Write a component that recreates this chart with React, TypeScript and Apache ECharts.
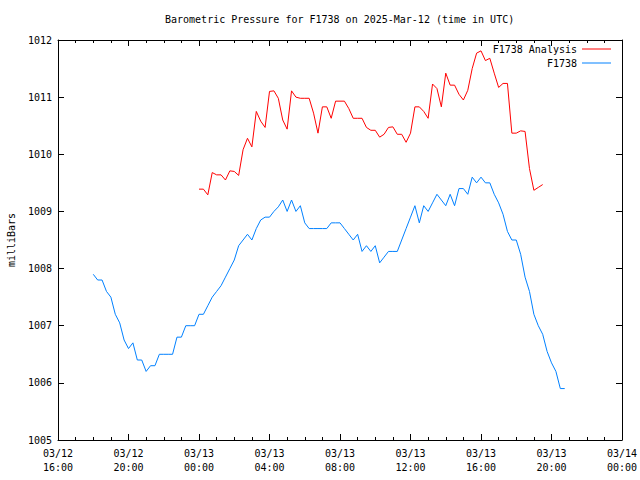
import React, { useEffect, useRef } from "react";
import * as echarts from "echarts";

const titleText = "Barometric Pressure for F1738 on 2025-Mar-12 (time in UTC)";
const yAxisName = "milliBars";
const seriesNames = ["F1738 Analysis", "F1738"];
const axisStart = "03/12 16:00";
const axisEnd = "03/14 00:00";
const yMin = 1005;
const yMax = 1012;

const f1738Times = [
  "03/12 18:00", "03/12 18:15", "03/12 18:30", "03/12 18:45", "03/12 19:00", "03/12 19:15", "03/12 19:30", "03/12 19:45",
  "03/12 20:00", "03/12 20:15", "03/12 20:30", "03/12 20:45", "03/12 21:00", "03/12 21:15", "03/12 21:30", "03/12 21:45",
  "03/12 22:00", "03/12 22:15", "03/12 22:30", "03/12 22:45", "03/12 23:00", "03/12 23:15", "03/12 23:30", "03/12 23:45",
  "03/13 00:00", "03/13 00:15", "03/13 00:30", "03/13 00:45", "03/13 01:00", "03/13 01:15", "03/13 01:30", "03/13 01:45",
  "03/13 02:00", "03/13 02:15", "03/13 02:30", "03/13 02:45", "03/13 03:00", "03/13 03:15", "03/13 03:30", "03/13 03:45",
  "03/13 04:00", "03/13 04:15", "03/13 04:30", "03/13 04:45", "03/13 05:00", "03/13 05:15", "03/13 05:30", "03/13 05:45",
  "03/13 06:00", "03/13 06:15", "03/13 06:30", "03/13 06:45", "03/13 07:00", "03/13 07:15", "03/13 07:30", "03/13 07:45",
  "03/13 08:00", "03/13 08:15", "03/13 08:30", "03/13 08:45", "03/13 09:00", "03/13 09:15", "03/13 09:30", "03/13 09:45",
  "03/13 10:00", "03/13 10:15", "03/13 10:30", "03/13 10:45", "03/13 11:00", "03/13 11:15", "03/13 11:30", "03/13 11:45",
  "03/13 12:00", "03/13 12:15", "03/13 12:30", "03/13 12:45", "03/13 13:00", "03/13 13:15", "03/13 13:30", "03/13 13:45",
  "03/13 14:00", "03/13 14:15", "03/13 14:30", "03/13 14:45", "03/13 15:00", "03/13 15:15", "03/13 15:30", "03/13 15:45",
  "03/13 16:00", "03/13 16:15", "03/13 16:30", "03/13 16:45", "03/13 17:00", "03/13 17:15", "03/13 17:30", "03/13 17:45",
  "03/13 18:00", "03/13 18:15", "03/13 18:30", "03/13 18:45", "03/13 19:00", "03/13 19:15", "03/13 19:30", "03/13 19:45",
  "03/13 20:00", "03/13 20:15", "03/13 20:30", "03/13 20:45",
];
const f1738Values = [
  1007.9, 1007.8, 1007.8, 1007.6, 1007.5, 1007.2, 1007.05, 1006.75,
  1006.6, 1006.7, 1006.4, 1006.4, 1006.2, 1006.3, 1006.3, 1006.5,
  1006.5, 1006.5, 1006.5, 1006.8, 1006.8, 1007.0, 1007.0, 1007.0,
  1007.2, 1007.2, 1007.35, 1007.5, 1007.6, 1007.7, 1007.85, 1008.0,
  1008.15, 1008.4, 1008.5, 1008.6, 1008.5, 1008.7, 1008.85, 1008.9,
  1008.9, 1009.0, 1009.08, 1009.2, 1009.0, 1009.2, 1009.0, 1009.1,
  1008.8, 1008.7, 1008.7, 1008.7, 1008.7, 1008.7, 1008.8, 1008.8,
  1008.8, 1008.7, 1008.6, 1008.5, 1008.6, 1008.3, 1008.4, 1008.3,
  1008.4, 1008.1, 1008.2, 1008.3, 1008.3, 1008.3, 1008.5, 1008.7,
  1008.9, 1009.1, 1008.8, 1009.1, 1009.0, 1009.15, 1009.3, 1009.2,
  1009.1, 1009.3, 1009.1, 1009.4, 1009.4, 1009.3, 1009.6, 1009.5,
  1009.6, 1009.5, 1009.5, 1009.3, 1009.15, 1008.95, 1008.65, 1008.5,
  1008.5, 1008.25, 1007.85, 1007.6, 1007.2, 1007.0, 1006.85, 1006.55,
  1006.35, 1006.2, 1005.9, 1005.9,
];

const analysisTimes = [
  "03/13 00:00", "03/13 00:15", "03/13 00:30", "03/13 00:45", "03/13 01:00", "03/13 01:15", "03/13 01:30", "03/13 01:45",
  "03/13 02:00", "03/13 02:15", "03/13 02:30", "03/13 02:45", "03/13 03:00", "03/13 03:15", "03/13 03:30", "03/13 03:45",
  "03/13 04:00", "03/13 04:15", "03/13 04:30", "03/13 04:45", "03/13 05:00", "03/13 05:15", "03/13 05:30", "03/13 05:45",
  "03/13 06:00", "03/13 06:15", "03/13 06:30", "03/13 06:45", "03/13 07:00", "03/13 07:15", "03/13 07:30", "03/13 07:45",
  "03/13 08:00", "03/13 08:15", "03/13 08:30", "03/13 08:45", "03/13 09:00", "03/13 09:15", "03/13 09:30", "03/13 09:45",
  "03/13 10:00", "03/13 10:15", "03/13 10:30", "03/13 10:45", "03/13 11:00", "03/13 11:15", "03/13 11:30", "03/13 11:45",
  "03/13 12:00", "03/13 12:15", "03/13 12:30", "03/13 12:45", "03/13 13:00", "03/13 13:15", "03/13 13:30", "03/13 13:45",
  "03/13 14:00", "03/13 14:15", "03/13 14:30", "03/13 14:45", "03/13 15:00", "03/13 15:15", "03/13 15:30", "03/13 15:45",
  "03/13 16:00", "03/13 16:15", "03/13 16:30", "03/13 16:45", "03/13 17:00", "03/13 17:15", "03/13 17:30", "03/13 17:45",
  "03/13 18:00", "03/13 18:15", "03/13 18:30", "03/13 18:45", "03/13 19:00", "03/13 19:15", "03/13 19:30",
];
const analysisValues = [
  1009.39, 1009.39, 1009.29, 1009.68, 1009.64, 1009.64, 1009.55, 1009.71,
  1009.7, 1009.63, 1010.08, 1010.28, 1010.13, 1010.75, 1010.58, 1010.47,
  1011.1, 1011.11, 1010.98, 1010.6, 1010.44, 1011.11, 1011.0, 1010.98,
  1010.98, 1010.98, 1010.72, 1010.37, 1010.83, 1010.83, 1010.63, 1010.93,
  1010.93, 1010.93, 1010.8, 1010.63, 1010.63, 1010.63, 1010.47, 1010.42,
  1010.42, 1010.3, 1010.35, 1010.47, 1010.48, 1010.35, 1010.35, 1010.21,
  1010.37, 1010.83, 1010.83, 1010.75, 1010.63, 1011.23, 1011.15, 1010.83,
  1011.42, 1011.21, 1011.21, 1011.05, 1010.95, 1011.12, 1011.5, 1011.77,
  1011.81, 1011.64, 1011.68, 1011.42, 1011.17, 1011.24, 1011.24, 1010.37,
  1010.37, 1010.41, 1010.4, 1009.75, 1009.37, 1009.42, 1009.47,
];

const HOUR = 3600 * 1000;
const FONT = "'DejaVu Sans Mono', 'Liberation Mono', monospace";

function parseTime(s: string): number {
  const [md, hm] = s.split(" ");
  const [mo, d] = md.split("/").map(Number);
  const [h, m] = hm.split(":").map(Number);
  return Date.UTC(2025, mo - 1, d, h, m);
}

function pad(n: number): string {
  return n < 10 ? "0" + n : String(n);
}

function fmtLabel(v: number): string {
  const d = new Date(v);
  return `${pad(d.getUTCMonth() + 1)}/${pad(d.getUTCDate())}\n${pad(d.getUTCHours())}:${pad(d.getUTCMinutes())}`;
}

export default function App() {
  const ref = useRef<HTMLDivElement>(null);
  useEffect(() => {
    if (!ref.current) return;
    const chart = echarts.init(ref.current, undefined, { renderer: "svg" });
    const xMin = parseTime(axisStart);
    const xMax = parseTime(axisEnd);
    const axisLine = { show: true, lineStyle: { color: "#000", width: 1 } };
    const xCommon = {
      type: "value" as const,
      min: xMin,
      max: xMax,
      interval: 4 * HOUR,
      axisLine,
      axisTick: { show: true, inside: true, length: 6, lineStyle: { color: "#000" } },
      minorTick: { show: true, splitNumber: 4, length: 3, lineStyle: { color: "#000" } },
      splitLine: { show: false },
      minorSplitLine: { show: false },
    };
    const yCommon = {
      type: "value" as const,
      min: yMin,
      max: yMax,
      interval: 1,
      axisLine,
      axisTick: { show: true, inside: true, length: 6, lineStyle: { color: "#000" } },
      splitLine: { show: false },
    };
    const legendCommon = {
      orient: "horizontal" as const,
      right: 24,
      align: "right" as const,
      icon: "rect",
      itemWidth: 29,
      itemHeight: 1,
      textStyle: { fontFamily: FONT, fontSize: 10, color: "#000" },
      selectedMode: false,
    };
    chart.setOption({
      animation: false,
      backgroundColor: "#fff",
      title: {
        text: titleText,
        left: 160,
        top: 9,
        textStyle: { fontFamily: FONT, fontSize: 10, fontWeight: "normal", color: "#000" },
      },
      legend: [
        { ...legendCommon, data: [seriesNames[0]], top: 39 },
        { ...legendCommon, data: [seriesNames[1]], top: 53 },
      ],
      grid: { left: 58, right: 18, top: 40, bottom: 40, containLabel: false, outerBoundsMode: "none" },
      xAxis: [
        {
          ...xCommon,
          position: "bottom",
          axisLabel: {
            show: true,
            formatter: (v: number) => fmtLabel(v),
            fontFamily: FONT,
            fontSize: 10,
            color: "#000",
            lineHeight: 14,
            margin: 6,
          },
        },
        { ...xCommon, position: "top", axisLabel: { show: false } },
      ],
      yAxis: [
        {
          ...yCommon,
          position: "left",
          name: yAxisName,
          nameLocation: "middle",
          nameGap: 42,
          nameRotate: 90,
          nameTextStyle: { fontFamily: FONT, fontSize: 10, color: "#000" },
          axisLabel: {
            show: true,
            formatter: (v: number) => String(v),
            fontFamily: FONT,
            fontSize: 10,
            color: "#000",
            margin: 6,
          },
        },
        { ...yCommon, position: "right", axisLabel: { show: false } },
      ],
      series: [
        {
          name: seriesNames[0],
          type: "line",
          xAxisIndex: 0,
          yAxisIndex: 0,
          symbol: "none",
          color: "#ff0000",
          lineStyle: { color: "#ff0000", width: 1 },
          data: analysisTimes.map((t, i) => [parseTime(t), analysisValues[i]]),
        },
        {
          name: seriesNames[1],
          type: "line",
          xAxisIndex: 0,
          yAxisIndex: 0,
          symbol: "none",
          color: "#0080ff",
          lineStyle: { color: "#0080ff", width: 1 },
          data: f1738Times.map((t, i) => [parseTime(t), f1738Values[i]]),
        },
      ],
    });
    return () => chart.dispose();
  }, []);
  return (
    <div
      ref={ref}
      style={{ position: "fixed", left: 0, top: 0, width: 640, height: 480, background: "#fff" }}
    />
  );
}
